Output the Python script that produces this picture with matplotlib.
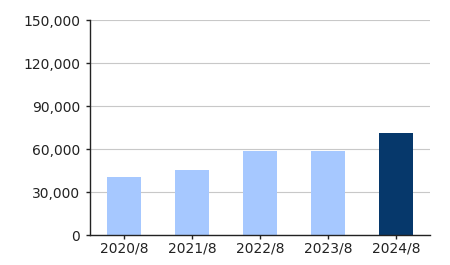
import matplotlib.pyplot as plt
import numpy as np
from matplotlib.ticker import FuncFormatter

years = ['2020/8', '2021/8', '2022/8', '2023/8', '2024/8']
values = [40700, 45400, 58800, 58400, 71400]
bar_colors = ['#a6c8ff', '#a6c8ff', '#a6c8ff', '#a6c8ff', '#06386b']
yticks = [0, 30000, 60000, 90000, 120000, 150000]

fig = plt.figure(figsize=(4.5, 2.65), dpi=100)
ax = fig.add_axes([0.2, 0.1132, 0.7556, 0.8113])

x = np.arange(len(years))
ax.bar(x, values, width=0.49, color=bar_colors, zorder=3)

ax.set_xlim(-0.5, 4.5)
ax.set_ylim(0, 150000)
ax.set_yticks(yticks)
ax.yaxis.set_major_formatter(FuncFormatter(lambda v, p: f'{int(v):,}'))
ax.set_xticks(x)
ax.set_xticklabels(years)
ax.grid(axis='y', color='#c8c8c8', linewidth=0.8, zorder=0)

for s in ['top', 'right']:
    ax.spines[s].set_visible(False)
for s in ['left', 'bottom']:
    ax.spines[s].set_color('#222222')
    ax.spines[s].set_linewidth(1)
    ax.spines[s].set_zorder(4)

ax.tick_params(axis='both', labelsize=10, colors='#222222', length=3, width=1)
ax.tick_params(axis='y', pad=4)
ax.tick_params(axis='x', pad=2)

plt.savefig('out.png', dpi=100)
